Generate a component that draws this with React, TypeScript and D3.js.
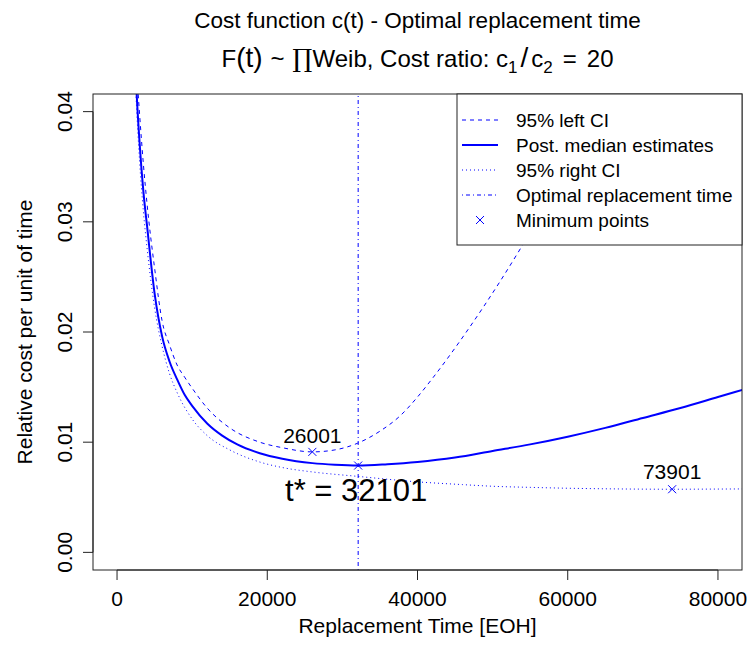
import React from "react";
import * as d3 from "d3";

// ---- data ----
const xTicks = [0, 20000, 40000, 60000, 80000];
const yTicks = [0, 0.01, 0.02, 0.03, 0.04];
const xLim = [0, 80000];
const yLim = [0, 0.04];

const medianT = [2400, 2600, 3000, 3500, 4000, 5000, 6000, 7000, 8000, 9000, 10000, 12000, 14000, 16000, 19000, 22000, 26000, 29000, 32101, 36000, 40000, 45000, 50000, 55000, 60000, 65000, 70000, 75000, 80000, 84000];
const medianC = [0.045, 0.0418, 0.0372, 0.0328, 0.0296, 0.0235, 0.0196, 0.0173, 0.0157, 0.0143, 0.0133, 0.0117, 0.0106, 0.0098, 0.009, 0.0085, 0.0081, 0.00795, 0.00788, 0.008, 0.0082, 0.0086, 0.0092, 0.0098, 0.0105, 0.0113, 0.0122, 0.0131, 0.0141, 0.0149];

const leftT = [2600, 2800, 3000, 3500, 4000, 5000, 6000, 7000, 8000, 9000, 10000, 12000, 15000, 19000, 22000, 26001, 29000, 32000, 35000, 37700, 40000, 42000, 46500, 51000, 54000, 58000, 62000, 66000];
const leftC = [0.0445, 0.0418, 0.0398, 0.0353, 0.0316, 0.0258, 0.021, 0.0188, 0.017, 0.0159, 0.0149, 0.0131, 0.0113, 0.01, 0.0095, 0.00912, 0.0093, 0.0099, 0.011, 0.0124, 0.0141, 0.0158, 0.02, 0.0246, 0.0279, 0.0325, 0.0374, 0.0426];

const rightT = [2300, 2500, 3000, 3500, 4000, 5000, 6000, 7000, 8000, 10000, 12000, 15000, 19000, 22000, 26000, 32000, 40000, 46000, 50000, 55000, 60000, 65000, 70000, 73901, 78000, 84000];
const rightC = [0.045, 0.0418, 0.0355, 0.031, 0.0276, 0.0222, 0.0187, 0.0162, 0.0145, 0.0121, 0.0106, 0.0093, 0.0082, 0.0077, 0.0073, 0.0069, 0.0064, 0.00615, 0.006, 0.0059, 0.00582, 0.00577, 0.00574, 0.00573, 0.00574, 0.00576];

const minT = [26001, 32101, 73901];
const minC = [0.00912, 0.00788, 0.00573];
const optimalT = 32101;

const legendLabels = ["95% left CI", "Post. median estimates", "95% right CI", "Optimal replacement time", "Minimum points"];

const FONT = "'Liberation Sans', Arial, Helvetica, sans-serif";
const BLUE = "#0000ff";

export default function App() {
  const W = 748, H = 648;
  const L = 93, R = 742, T = 94, B = 570;
  const xPad = 0.04 * (xLim[1] - xLim[0]);
  const yPad = 0.04 * (yLim[1] - yLim[0]);
  const x = d3.scaleLinear().domain([xLim[0] - xPad, xLim[1] + xPad]).range([L, R]);
  const y = d3.scaleLinear().domain([yLim[0] - yPad, yLim[1] + yPad]).range([B, T]);

  const line = d3
    .line<[number, number]>()
    .x((d) => x(d[0]))
    .y((d) => y(d[1]))
    .curve(d3.curveMonotoneX);
  const zip = (a: number[], b: number[]) => a.map((v, i) => [v, b[i]] as [number, number]);

  const cross = (cx: number, cy: number, s = 4) =>
    `M${cx - s},${cy - s}L${cx + s},${cy + s}M${cx - s},${cy + s}L${cx + s},${cy - s}`;

  const xo = x(optimalT);
  const legX = 457, legY = T, legW = R - 457, legH = 151;
  const rowY = (i: number) => 120 + 25 * i;

  return (
    <svg width={W} height={H} style={{ position: "absolute", left: 0, top: 0, background: "#fff" }} fontFamily={FONT}>
      <defs>
        <clipPath id="plot">
          <rect x={L} y={T} width={R - L} height={B - T} />
        </clipPath>
      </defs>
      <rect x={0} y={0} width={W} height={H} fill="#fff" />

      {/* title */}
      <text x={(L + R) / 2} y={28} textAnchor="middle" fontSize={22.5}>
        Cost function c(t) - Optimal replacement time
      </text>
      <text x={(L + R) / 2} y={67} textAnchor="middle" fontSize={24}>
        <tspan>F</tspan>
        <tspan fontSize={28}>(t)</tspan>
        <tspan dx={8}>~</tspan>
        <tspan dx={8} fontFamily="'DejaVu Serif', serif" fontSize={25}>∏</tspan>
        <tspan>Weib, Cost ratio: c</tspan>
        <tspan fontSize={17} dy={6}>1</tspan>
        <tspan fontSize={28} dy={-6} dx={3}>/</tspan>
        <tspan dx={3}>c</tspan>
        <tspan fontSize={17} dy={6}>2</tspan>
        <tspan dy={-6} dx={10}>=</tspan>
        <tspan dx={10}>20</tspan>
      </text>

      {/* curves */}
      <g clipPath="url(#plot)" fill="none" stroke={BLUE}>
        <path d={line(zip(leftT, leftC)) || ""} strokeWidth={1} strokeDasharray="4,4" />
        <path d={line(zip(rightT, rightC)) || ""} strokeWidth={1} strokeDasharray="1,3" />
        <path d={line(zip(medianT, medianC)) || ""} strokeWidth={2} />
        <line x1={xo} x2={xo} y1={B} y2={T} strokeWidth={1} strokeDasharray="1,3,4,3" />
        {minT.map((t, i) => (
          <path key={i} d={cross(x(t), y(minC[i]))} strokeWidth={1} />
        ))}
      </g>

      {/* annotations */}
      <text x={x(minT[0])} y={y(minC[0]) - 9} textAnchor="middle" fontSize={21}>
        {String(minT[0])}
      </text>
      <text x={x(minT[2])} y={y(minC[2]) - 10} textAnchor="middle" fontSize={21}>
        {String(minT[2])}
      </text>
      <text x={x(optimalT) - 2} y={y(minC[1]) + 35} textAnchor="middle" fontSize={31}>
        {`t* = ${optimalT}`}
      </text>

      {/* box and axes */}
      <rect x={L} y={T} width={R - L} height={B - T} fill="none" stroke="#222" strokeWidth={1} />
      <g stroke="#222" strokeWidth={1}>
        <line x1={x(xTicks[0])} x2={x(xTicks[xTicks.length - 1])} y1={B} y2={B} />
        {xTicks.map((t) => (
          <line key={t} x1={x(t)} x2={x(t)} y1={B} y2={B + 10} />
        ))}
        <line x1={L} x2={L} y1={y(yTicks[0])} y2={y(yTicks[yTicks.length - 1])} />
        {yTicks.map((t) => (
          <line key={t} x1={L - 10} x2={L} y1={y(t)} y2={y(t)} />
        ))}
      </g>
      {xTicks.map((t) => (
        <text key={t} x={x(t)} y={606} textAnchor="middle" fontSize={21}>
          {String(t)}
        </text>
      ))}
      {yTicks.map((t) => (
        <text key={t} transform={`translate(72,${y(t)}) rotate(-90)`} textAnchor="middle" fontSize={21}>
          {t.toFixed(2)}
        </text>
      ))}
      <text x={(L + R) / 2} y={633} textAnchor="middle" fontSize={21}>
        Replacement Time [EOH]
      </text>
      <text transform={`translate(32,332) rotate(-90)`} textAnchor="middle" fontSize={21}>
        Relative cost per unit of time
      </text>

      {/* legend */}
      <rect x={legX} y={legY} width={legW} height={legH} fill="#fff" stroke="#222" strokeWidth={1} />
      <g stroke={BLUE} fill="none">
        <line x1={462} x2={498} y1={rowY(0)} y2={rowY(0)} strokeDasharray="4,4" />
        <line x1={462} x2={498} y1={rowY(1)} y2={rowY(1)} strokeWidth={2} />
        <line x1={462} x2={498} y1={rowY(2)} y2={rowY(2)} strokeDasharray="1,3" />
        <line x1={462} x2={498} y1={rowY(3)} y2={rowY(3)} strokeDasharray="1,3,4,3" />
        <path d={cross(480, rowY(4))} />
      </g>
      {legendLabels.map((s, i) => (
        <text key={s} x={516} y={rowY(i) + 7} fontSize={19}>
          {s}
        </text>
      ))}
    </svg>
  );
}
